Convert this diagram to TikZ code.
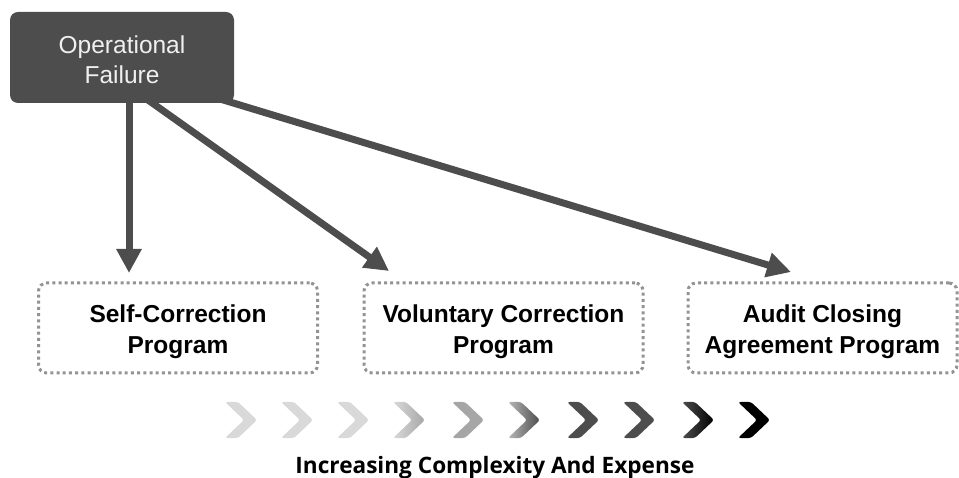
\documentclass[tikz,border=0pt]{standalone}
\usepackage{fontspec}
\setmainfont{Liberation Sans}
\newfontfamily\capfont{Open Sans}
\usetikzlibrary{arrows.meta,calc}
\definecolor{dk}{HTML}{4D4D4D}
\definecolor{lt}{HTML}{D9D9D9}
\definecolor{md}{HTML}{A6A6A6}
\definecolor{dotc}{HTML}{939393}
\tikzset{
  opbox/.style={fill=dk,rounded corners=8pt,minimum width=224pt,minimum height=91pt,inner sep=0pt},
  optext/.style={text=white!94!black,align=center,font=\fontsize{24.5pt}{30pt}\selectfont,inner sep=0pt},
  progbox/.style={draw=dotc,line width=3pt,dash pattern=on 3pt off 3.2pt,rounded corners=8pt,
    minimum width=279pt,minimum height=90pt,inner sep=0pt},
  progtext/.style={align=center,font=\bfseries\fontsize{24.5pt}{30.5pt}\selectfont,inner sep=0pt},
  flow/.style={draw=dk,line width=7pt,-{Triangle[length=24pt,width=24pt]}},
  chev/.pic={\path[rounded corners=2.5pt,pic actions] (0,0)--(13,0)--(32,18)--(13,36)--(0,36)--(19,18)--cycle;}
}
\begin{document}
\begin{tikzpicture}[x=1pt,y=-1pt]
\useasboundingbox (0,0) rectangle (959,478);
\node[opbox] (op) at (122,57.5) {};
\node[optext] (opt) at ($(op.center)+(0,2)$) {Operational\\Failure};
\node[progbox] (sc) at (178,328) {};
\node[progbox] (vc) at (503.5,328) {};
\node[progbox,minimum width=269pt] (ac) at (822.5,328) {};
\node[progtext] (sct) at ($(sc.center)+(0,3.5)$) {Self-Correction\\Program};
\node[progtext] (vct) at ($(vc.center)+(0,3.5)$) {Voluntary Correction\\Program};
\node[progtext] (act) at ($(ac.center)+(0,3.5)$) {Audit Closing\\Agreement Program};
\coordinate (s1) at (129,100);
\coordinate (s2) at (148,100);
\coordinate (s3) at (220,99);
\coordinate (e1) at (129,273);
\coordinate (e2) at (389,271);
\coordinate (e3) at (791,272);
\draw[flow] (s1) -- (e1);
\draw[flow] (s2) -- (e2);
\draw[flow] (s3) -- (e3);
% chevrons
\pic[fill=lt] at (225,402) {chev};
\pic[fill=lt] at (281,402) {chev};
\pic[fill=lt] at (337,402) {chev};
\begin{scope}[shift={(393,402)}]
\shade[left color=lt,right color=md,rounded corners=2.5pt] (0,0)--(13,0)--(32,18)--(13,36)--(0,36)--(19,18)--cycle;
\end{scope}
\pic[fill=md] at (452,402) {chev};
\begin{scope}[shift={(508,402)}]
\shade[left color=md!80,right color=dk,rounded corners=2.5pt] (0,0)--(13,0)--(32,18)--(13,36)--(0,36)--(19,18)--cycle;
\end{scope}
\pic[fill=dk] at (567,402) {chev};
\pic[fill=dk] at (623,402) {chev};
\begin{scope}[shift={(682,402)}]
\shade[left color=dk,right color=black,rounded corners=2.5pt] (0,0)--(13,0)--(32,18)--(13,36)--(0,36)--(19,18)--cycle;
\end{scope}
\pic[fill=black] at (738,402) {chev};
\node[font=\capfont\bfseries\fontsize{22.6pt}{25pt}\selectfont] (cap) at (495,468) {Increasing Complexity And Expense};
\end{tikzpicture}
\end{document}
